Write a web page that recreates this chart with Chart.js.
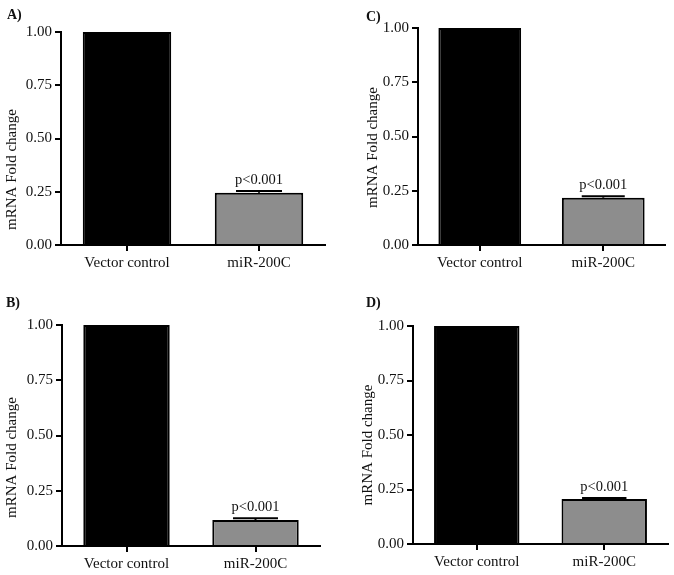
<!DOCTYPE html>
<html>
<head>
<meta charset="utf-8">
<script src="https://cdn.jsdelivr.net/npm/chart.js@4.4.1/dist/chart.umd.min.js"></script>
<style>
  html, body { margin: 0; padding: 0; background: #fff; }
  #wrap { position: relative; width: 674px; height: 575px; overflow: hidden; }
  canvas { position: absolute; }
  .tag { position: absolute; font: bold 14px "Liberation Serif", "DejaVu Serif", serif; color: #111; }
</style>
</head>
<body>
<div id="wrap">
  <canvas id="chartA" width="337" height="285" style="left:0;top:0"></canvas>
  <canvas id="chartC" width="337" height="285" style="left:337px;top:0"></canvas>
  <canvas id="chartB" width="337" height="290" style="left:0;top:285px"></canvas>
  <canvas id="chartD" width="337" height="290" style="left:337px;top:285px"></canvas>
  <div class="tag" style="left:7px;top:7px">A)</div>
  <div class="tag" style="left:366px;top:9px">C)</div>
  <div class="tag" style="left:6px;top:295px">B)</div>
  <div class="tag" style="left:366px;top:295px">D)</div>
</div>
<script>
// Dados dos gráficos
const categories = ['Vector control', 'miR-200C'];
const yTicks = [0, 0.25, 0.5, 0.75, 1.0];
const yTitle = 'mRNA Fold change';
const pText = 'p<0.001';

const meanA = [1.0, 0.245];
const errA = [0, 0.008];
const meanB = [1.0, 0.118];
const errB = [0, 0.008];
const meanC = [1.0, 0.218];
const errC = [0, 0.007];
const meanD = [1.0, 0.206];
const errD = [0, 0.005];

const serif = '"Liberation Serif", "DejaVu Serif", serif';
const ink = '#111';

// barras de erro + texto do p-valor
const errorBarPlugin = {
    id: 'errorBars',
    afterDatasetsDraw(chart, args, opts) {
        const ctx = chart.ctx;
        const y = chart.scales.y;
        const meta = chart.getDatasetMeta(0);
        const means = chart.data.datasets[0].data;
        ctx.save();
        opts.errors.forEach((e, i) => {
            if (!e) return;
            const bar = meta.data[i];
            const top = y.getPixelForValue(means[i] + e);
            const base = y.getPixelForValue(means[i]);
            const half = bar.width * 0.26;
            ctx.strokeStyle = '#000';
            ctx.lineWidth = 2;
            ctx.beginPath();
            ctx.moveTo(bar.x, base);
            ctx.lineTo(bar.x, top);
            ctx.moveTo(bar.x - half, top);
            ctx.lineTo(bar.x + half, top);
            ctx.stroke();
            ctx.fillStyle = ink;
            ctx.font = '14.5px ' + serif;
            ctx.textAlign = 'center';
            ctx.textBaseline = 'alphabetic';
            ctx.fillText(opts.label, bar.x, top - 7);
        });
        ctx.restore();
    }
};

// título do eixo y deslocado (como no original)
const yTitlePlugin = {
    id: 'yTitle',
    afterDraw(chart, args, opts) {
        const ctx = chart.ctx;
        const a = chart.chartArea;
        ctx.save();
        ctx.translate(a.left + opts.dx, (a.top + a.bottom) / 2 + opts.dy);
        ctx.rotate(-Math.PI / 2);
        ctx.fillStyle = ink;
        ctx.font = '15px ' + serif;
        ctx.textAlign = 'center';
        ctx.textBaseline = 'middle';
        ctx.fillText(yTitle, 0, 0);
        ctx.restore();
    }
};

function makeChart(id, means, errs, box) {
    return new Chart(document.getElementById(id), {
        type: 'bar',
        data: {
            labels: categories,
            datasets: [{
                data: means,
                backgroundColor: ['#000000', '#8d8d8d'],
                borderColor: '#000',
                borderWidth: 2,
                barPercentage: 0.67,
                categoryPercentage: 1
            }]
        },
        options: {
            responsive: false,
            animation: false,
            layout: { padding: { top: box.top, right: box.right, left: 0, bottom: 0 } },
            plugins: {
                legend: { display: false },
                tooltip: { enabled: false },
                errorBars: { errors: errs, label: pText },
                yTitle: { dx: box.tdx, dy: box.tdy }
            },
            scales: {
                x: {
                    afterFit: s => { s.height = box.xh; },
                    border: { display: true, color: '#000', width: 2 },
                    grid: { display: true, drawOnChartArea: false, offset: false, color: '#000', lineWidth: 2, tickLength: 6 },
                    ticks: { color: ink, padding: 3, font: { family: serif, size: 15 } }
                },
                y: {
                    min: 0,
                    max: 1,
                    afterFit: s => { s.width = box.yw; },
                    afterBuildTicks: s => { s.ticks = yTicks.map(v => ({ value: v })); },
                    border: { display: true, color: '#000', width: 2 },
                    grid: { display: true, drawOnChartArea: false, color: '#000', lineWidth: 2, tickLength: 6 },
                    ticks: {
                        color: ink,
                        padding: 3,
                        font: { family: serif, size: 15 },
                        callback: v => Number(v).toFixed(2)
                    }
                }
            }
        },
        plugins: [errorBarPlugin, yTitlePlugin]
    });
}

document.addEventListener('DOMContentLoaded', () => {
    makeChart('chartA', meanA, errA, { yw: 61, top: 32, right: 12, xh: 40, tdx: -49, tdy: 31 });
    makeChart('chartC', meanC, errC, { yw: 81, top: 28, right: 9, xh: 40, tdx: -45, tdy: 11 });
    makeChart('chartB', meanB, errB, { yw: 62, top: 40, right: 17, xh: 29, tdx: -50, tdy: 22 });
    makeChart('chartD', meanD, errD, { yw: 76, top: 41, right: 6, xh: 31, tdx: -45, tdy: 10 });
});
</script>
</body>
</html>
